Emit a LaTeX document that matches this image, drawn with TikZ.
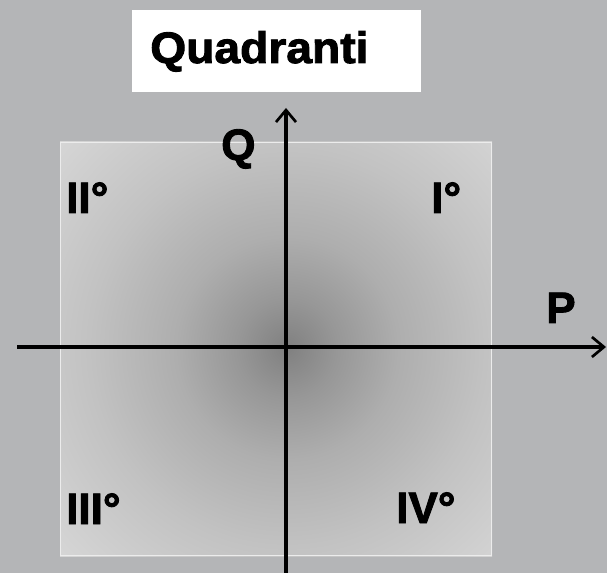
\documentclass[tikz,border=0pt]{standalone}
\usepackage{fontspec}
\setmainfont{Liberation Sans}[BoldFeatures={FakeBold=2}]
\usetikzlibrary{arrows.meta}
\definecolor{bg}{HTML}{B4B5B7}
\definecolor{c0}{HTML}{808080}
\definecolor{c1}{HTML}{979797}
\definecolor{c2}{HTML}{AEAEAE}
\definecolor{c3}{HTML}{C2C2C2}
\definecolor{c4}{HTML}{D6D6D6}
\pgfdeclareradialshading{quadsh}{\pgfpoint{0bp}{0bp}}{color(0bp)=(c0); color(4bp)=(c1); color(9bp)=(c2); color(16bp)=(c3); color(25bp)=(c4); color(50bp)=(c4)}
\tikzset{
  lbl/.style={font=\fontsize{33}{33}\selectfont\bfseries, inner sep=0pt, anchor=base west},
  axis/.style={line width=2.4pt, -{Straight Barb[length=9pt,width=15pt,line width=2pt]}}
}
\begin{document}
\begin{tikzpicture}[x=0.75pt,y=-0.75pt]
\fill[bg] (0,0) rectangle (607,573);
\useasboundingbox (0,0) rectangle (607,573);
% shaded square
\begin{scope}
  \clip (60,142) rectangle (492,556);
  \shade[shading=quadsh] (287,348) circle (232.5pt);
\end{scope}
\draw[white!85!gray, line width=0.6pt] (60.5,142.5) rectangle (491.5,555.5);
% title
\node[fill=white, minimum width=216.75pt, minimum height=61.5pt, inner sep=0pt] (title) at (276.5,51) {};
\node[lbl, xscale=1.05] (titletext) at (150,63) {Quadranti};
% axes
\coordinate (xl) at (17,347);
\coordinate (xr) at (606,347);
\coordinate (yb) at (286,573);
\coordinate (yt) at (286,108);
\draw[axis] (xl) -- (xr);
\draw[axis] (yb) -- (yt);
% labels
\node[lbl] (q) at (221,160) {Q};
\node[lbl] (p) at (546,323) {P};
\node[lbl] (q2) at (66,213) {II°};
\node[lbl] (q1) at (431,213) {I°};
\node[lbl] (q3) at (66,524) {III°};
\node[lbl] (q4) at (396,523) {IV°};
\end{tikzpicture}
\end{document}
